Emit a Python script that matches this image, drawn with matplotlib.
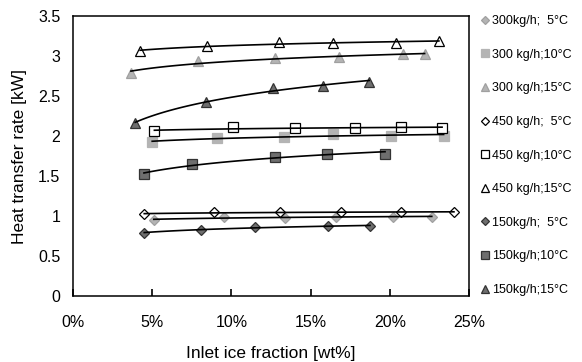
import numpy as np
import matplotlib
matplotlib.use("Agg")
import matplotlib.pyplot as plt
from matplotlib.ticker import FuncFormatter

plt.rcParams["font.family"] = ["Liberation Sans", "DejaVu Sans"]

# ---------------------------------------------------------------- data (ice fraction %, kW)
x_300_5 = [5.1, 9.55, 13.4, 16.6, 20.2, 22.65]
y_300_5 = [0.95, 0.99, 0.98, 0.99, 0.99, 0.99]
x_300_10 = [5.0, 9.1, 13.3, 16.4, 20.1, 23.4]
y_300_10 = [1.92, 1.98, 1.99, 2.03, 2.00, 2.00]
x_300_15 = [3.66, 7.9, 12.75, 16.8, 20.85, 22.2]
y_300_15 = [2.79, 2.94, 2.97, 2.99, 3.02, 3.02]

x_450_5 = [4.5, 8.9, 13.1, 16.9, 20.7, 24.05]
y_450_5 = [1.025, 1.046, 1.046, 1.046, 1.05, 1.05]
x_450_10 = [5.14, 10.1, 14.0, 17.8, 20.7, 23.3]
y_450_10 = [2.06, 2.11, 2.10, 2.10, 2.11, 2.10]
x_450_15 = [4.24, 8.48, 13.0, 16.4, 20.4, 23.1]
y_450_15 = [3.06, 3.13, 3.17, 3.16, 3.16, 3.19]

x_150_5 = [4.5, 8.1, 11.5, 16.1, 18.75]
y_150_5 = [0.79, 0.83, 0.86, 0.875, 0.875]
x_150_10 = [4.48, 7.5, 12.75, 16.05, 19.7]
y_150_10 = [1.52, 1.65, 1.74, 1.775, 1.78]
x_150_15 = [3.93, 8.4, 12.6, 15.8, 18.7]
y_150_15 = [2.16, 2.43, 2.60, 2.63, 2.67]

labels = ["300kg/h;  5°C", "300 kg/h;10°C", "300 kg/h;15°C",
          "450 kg/h;  5°C", "450 kg/h;10°C", "450 kg/h;15°C",
          "150kg/h;  5°C", "150kg/h;10°C", "150kg/h;15°C"]

LIGHT = "#b4b4b4"
DARK = "#6e6e6e"
series = [
    (x_300_5, y_300_5, "D", LIGHT, "#a0a0a0", 5),
    (x_300_10, y_300_10, "s", LIGHT, LIGHT, 6.5),
    (x_300_15, y_300_15, "^", LIGHT, "#a0a0a0", 7),
    (x_450_5, y_450_5, "D", "white", "black", 5),
    (x_450_10, y_450_10, "s", "white", "black", 6.5),
    (x_450_15, y_450_15, "^", "white", "black", 7),
    (x_150_5, y_150_5, "D", DARK, "#333333", 5),
    (x_150_10, y_150_10, "s", DARK, "#333333", 6.5),
    (x_150_15, y_150_15, "^", DARK, "#333333", 7),
]

fig = plt.figure(figsize=(5.82, 3.62), dpi=100)
ax = fig.add_axes([0.1254, 0.1823, 0.6804, 0.7735])

handles = []
for (xs, ys, mk, fc, ec, ms), lab in zip(series, labels):
    xs = np.array(xs); ys = np.array(ys)
    h, = ax.plot(xs / 100, ys, linestyle="none", marker=mk, markersize=ms,
                 markerfacecolor=fc, markeredgecolor=ec, markeredgewidth=0.9,
                 label=lab, zorder=2)
    handles.append(h)
    # log trendline, as in the spreadsheet original
    a, b = np.polyfit(np.log(xs), ys, 1)
    xx = np.linspace(xs.min(), xs.max(), 100)
    ax.plot(xx / 100, a * np.log(xx) + b, color="black", lw=1.2, zorder=3)

ax.set_xlim(0, 0.25)
ax.set_ylim(0, 3.5)
ax.set_xticks(np.arange(0, 0.26, 0.05))
ax.set_yticks(np.arange(0, 3.6, 0.5))
ax.xaxis.set_major_formatter(FuncFormatter(lambda v, _: f"{v*100:.0f}%"))
ax.yaxis.set_major_formatter(FuncFormatter(lambda v, _: f"{v:g}"))
ax.tick_params(axis="x", direction="in", length=5, width=1.2, pad=14, labelsize=11.5)
ax.tick_params(axis="y", length=0, pad=9, labelsize=11.5)
for s in ax.spines.values():
    s.set_linewidth(1.1)

ax.set_xlabel("Inlet ice fraction [wt%]", fontsize=12.5, labelpad=11)
ax.set_ylabel("Heat transfer rate [kW]", fontsize=12.5, labelpad=8)

fig.legend(handles=handles, loc="upper left", bbox_to_anchor=(481 / 582, 1 - 15 / 362),
           frameon=False, fontsize=9, labelspacing=1.73, handlelength=0.6,
           handletextpad=0.3, borderaxespad=0.0, borderpad=0.0, markerscale=0.8)

fig.savefig("out.png", dpi=100)
